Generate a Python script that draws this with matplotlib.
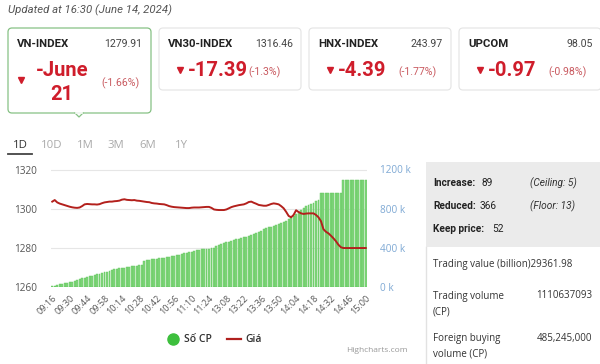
import matplotlib.pyplot as plt
from matplotlib.patches import FancyBboxPatch, Rectangle
import numpy as np

plt.rcParams['font.family'] = ['Roboto', 'DejaVu Sans']

# ---- data ----
updated = "Updated at 16:30 (June 14, 2024)"
index_names = ["VN-INDEX", "VN30-INDEX", "HNX-INDEX", "UPCOM"]
index_values = ["1279.91", "1316.46", "243.97", "98.05"]
index_changes = ["-June\n21", "-17.39", "-4.39", "-0.97"]
index_pcts = ["(-1.66%)", "(-1.3%)", "(-1.77%)", "(-0.98%)"]
tabs = ["1D", "10D", "1M", "3M", "6M", "1Y"]

time_labels = ["09:16", "09:30", "09:44", "09:58", "10:14", "10:28", "10:42",
               "10:56", "11:10", "11:24", "13:08", "13:22", "13:36", "13:50",
               "14:04", "14:18", "14:32", "14:46", "15:00"]

# volume ("Số CP"), thousands, one bar per point
volume_k = [8, 14, 20, 26, 32, 38, 44, 50, 56, 64, 72, 80, 87, 94, 101, 108,
            115, 121, 128, 134, 141, 150, 158, 166, 174, 180, 185, 190, 195,
            199, 203, 207, 211, 215, 219, 222, 226, 270, 274, 278, 282, 286,
            289, 293, 297, 300, 304, 308, 313, 318, 323, 328, 336, 344, 351,
            357, 362, 368, 375, 381, 385, 388, 390, 392, 395, 397, 420, 428,
            437, 446, 455, 464, 473, 482, 488, 494, 501, 508, 515, 521, 528,
            538, 550, 562, 575, 588, 600, 608, 616, 625, 634, 643, 652, 662,
            675, 690, 707, 725, 745, 765, 785, 805, 824, 835, 847, 858, 875,
            892, 960, 960, 960, 960, 960, 960, 960, 960, 960, 1097, 1097, 1097,
            1097, 1097, 1097, 1097, 1097, 1097, 1097]

# index level ("Giá")
price = [1303.6, 1304.4, 1303.2, 1302.6, 1302.2, 1301.8, 1301.4, 1301.0,
         1300.7, 1300.5, 1300.4, 1300.6, 1301.3, 1302.2, 1302.4, 1302.3,
         1302.2, 1302.2, 1302.1, 1302.3, 1302.8, 1303.2, 1303.4, 1303.6,
         1303.6, 1303.8, 1303.9, 1304.1, 1304.6, 1304.8, 1304.5, 1304.4,
         1304.3, 1304.4, 1304.1, 1304.0, 1303.8, 1303.6, 1303.4, 1303.3,
         1302.9, 1302.7, 1302.6, 1302.4, 1302.3, 1302.2, 1301.8, 1301.3,
         1301.0, 1300.8, 1300.7, 1300.6, 1300.5, 1300.4, 1300.3, 1300.3,
         1300.5, 1300.6, 1300.6, 1300.6, 1300.7, 1300.8, 1300.9, 1300.9,
         1300.4, 1299.6, 1299.4, 1299.3, 1299.3, 1299.3, 1299.6, 1300.2,
         1300.8, 1301.2, 1301.5, 1301.8, 1302.0, 1302.2, 1302.7, 1303.4,
         1303.6, 1303.0, 1302.5, 1301.9, 1301.7, 1301.5, 1301.5, 1301.9,
         1302.4, 1302.7, 1302.5, 1302.2, 1301.3, 1300.2, 1298.4, 1296.3,
         1295.6, 1296.8, 1299.2, 1298.3, 1297.6, 1297.3, 1297.5, 1297.6,
         1297.6, 1297.6, 1296.8, 1295.6, 1293.6, 1289.5, 1288.2, 1287.4,
         1286.2, 1284.9, 1283.4, 1281.6, 1280.3, 1279.9, 1279.9, 1279.9,
         1279.9, 1279.9, 1279.9, 1279.9, 1279.9, 1279.9, 1279.9]

breadth_labels = ["Increase:", "Reduced:", "Keep price:"]
breadth_values = ["89", "366", "52"]
breadth_notes = ["(Ceiling: 5)", "(Floor: 13)", ""]
stat_rows = [("Trading value (billion)29361.98", ""),
             ("Trading volume\n(CP)", "1110637093"),
             ("Foreign buying\nvolume (CP)", "485,245,000")]

RED = '#cf1d2b'
RED_LIGHT = '#c95a60'
SANS = ['Open Sans', 'DejaVu Sans']

fig = plt.figure(figsize=(6.0, 3.64), dpi=100)

# background layer in pixel coordinates
bg = fig.add_axes([0, 0, 1, 1])
bg.set_xlim(0, 600)
bg.set_ylim(364, 0)
bg.axis('off')

bg.text(8, 10, updated, fontsize=8.2, style='italic', color='#555555', va='center')

# index cards
card_x = [8, 159, 309, 459]
for k, x0 in enumerate(card_x):
    if k == 0:
        card = FancyBboxPatch((x0, 28), 143, 85, boxstyle="round,pad=0,rounding_size=4",
                              fc='white', ec='#86c184', lw=0.9)
        bg.add_patch(card)
        bg.plot([75, 79, 83], [113, 117, 113], color='#86c184', lw=0.9)
        bg.plot([75.6, 82.4], [113, 113], color='white', lw=1.2)
    else:
        card = FancyBboxPatch((x0, 28), 142, 62, boxstyle="round,pad=0,rounding_size=4",
                              fc='white', ec='#e4e4e4', lw=0.8)
        bg.add_patch(card)
    bg.text(x0 + 9, 44, index_names[k], fontsize=8.2, fontweight='bold', color='#222222', va='center')
    bg.text(x0 + 134, 44, index_values[k], fontsize=7.6, color='#444444', va='center', ha='right')

# first card has the wrapped change value
bg.plot(21, 80, marker='v', ms=4, color=RED, mec=RED)
bg.text(62, 71, "-June", fontsize=14.5, fontweight='bold', color=RED, va='center', ha='center')
bg.text(62, 94, "21", fontsize=14.5, fontweight='bold', color=RED, va='center', ha='center')
bg.text(121, 83, index_pcts[0], fontsize=7.6, color=RED_LIGHT, va='center', ha='center')

for k in range(1, 4):
    x0 = card_x[k]
    bg.plot(x0 + 21, 70, marker='v', ms=4, color=RED, mec=RED)
    bg.text(x0 + 29, 71, index_changes[k], fontsize=14.5, fontweight='bold', color=RED, va='center')
    bg.text(x0 + 89, 72, index_pcts[k], fontsize=7.6, color=RED_LIGHT, va='center')

# period tabs
tab_x = [20, 52, 85, 116, 148, 181]
for k, t in enumerate(tabs):
    bg.text(tab_x[k], 146, t, fontsize=8.2, color='#333333' if k == 0 else '#aaaaaa',
            ha='center', va='center', family=SANS)
bg.plot([8, 32], [153.5, 153.5], color='#444444', lw=1.3)

# legend
bg.plot(173, 339, marker='o', ms=8, color='#3dbf3d', mec='#3dbf3d')
bg.text(184, 339, "Số CP", fontsize=7.5, color='#333333', va='center', family=SANS, fontweight='semibold')
bg.plot([227, 241], [339, 339], color='#b0201e', lw=1.6)
bg.text(245, 339, "Giá", fontsize=7.5, color='#333333', va='center', family=SANS, fontweight='semibold')
bg.text(408, 350, "Highcharts.com", fontsize=6, color='#999999', va='center', ha='right', family=SANS)

# right statistics panel
bg.add_patch(Rectangle((426, 162), 174, 85, fc='#ebebeb', ec='none'))
bg.plot([426, 426], [247, 364], color='#e2e2e2', lw=1)
row_y = [183, 206, 229]
val_x = [482, 480, 492]
for k in range(3):
    bg.text(433, row_y[k], breadth_labels[k], fontsize=7.3, fontweight='bold', color='#222222', va='center')
    bg.text(val_x[k], row_y[k], breadth_values[k], fontsize=7.3, color='#222222', va='center')
    bg.text(530, row_y[k], breadth_notes[k], fontsize=7.3, style='italic', color='#333333', va='center')

stat_y = [265, 304, 346]
for k, (lab, val) in enumerate(stat_rows):
    bg.text(433, stat_y[k], lab, fontsize=7, color='#333333', va='center', family=SANS, linespacing=1.5)
    if val:
        bg.text(592, stat_y[k] - 8, val, fontsize=7, color='#333333', va='center', ha='right', family=SANS)

# ---- chart ----
ax = fig.add_axes([51 / 600, 77 / 364, 316 / 600, 117.5 / 364])
ax2 = ax.twinx()
x = np.arange(len(volume_k))

for lvl in [400, 800, 1200]:
    ax2.axhline(lvl, color='#e6e6e6', lw=0.8, zorder=0)
ax2.bar(x, volume_k, width=0.78, color='#82d67d', edgecolor='#5dc458', lw=0.3, zorder=1)
ax2.set_ylim(0, 1200)
ax2.set_yticks([0, 400, 800, 1200])
ax2.set_yticklabels(["0 k", "400 k", "800 k", "1200 k"])
ax2.tick_params(axis='y', length=0, pad=9, labelsize=7.2, labelcolor='#7fa9d4')

ax.set_zorder(ax2.get_zorder() + 1)
ax.patch.set_visible(False)
ax.plot(x, price, color='#b3201c', lw=1.4)
ax.set_ylim(1260, 1320)
ax.set_xlim(-0.5, len(volume_k) - 0.5)
ax.set_yticks([1260, 1280, 1300, 1320])
ax.tick_params(axis='y', length=0, pad=10, labelsize=7.2, labelcolor='#555555')
ax.set_xticks(np.arange(0, len(volume_k), 7))
ax.set_xticklabels(time_labels, rotation=45, ha='right', rotation_mode='anchor')
ax.tick_params(axis='x', length=0, pad=5, labelsize=6.5, labelcolor='#555555')

for a in (ax, ax2):
    for s in a.spines.values():
        s.set_visible(False)
    for lab in a.get_xticklabels() + a.get_yticklabels():
        lab.set_family(SANS)
ax2.axhline(0, color='#e0e0e0', lw=0.8, zorder=0)

fig.savefig('out.png', dpi=100)
